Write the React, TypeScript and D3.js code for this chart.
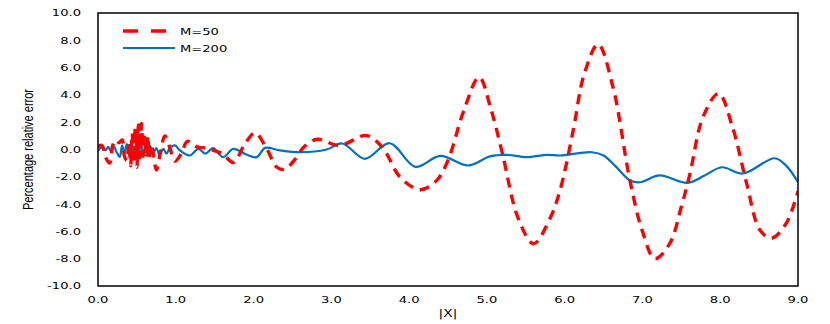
import React from 'react';
import * as d3 from 'd3';

// M=50 series (dashed red)
const m50X = [0, 0.05, 0.1, 0.15, 0.19, 0.23, 0.27, 0.31, 0.34, 0.37, 0.4, 0.42, 0.44, 0.46, 0.48, 0.5, 0.52, 0.54, 0.56, 0.58, 0.6, 0.62, 0.64, 0.66, 0.68, 0.71, 0.75, 0.8, 0.86, 0.92, 0.99, 1.07, 1.15, 1.27, 1.4, 1.5, 1.6, 1.74, 1.89, 2.02, 2.17, 2.3, 2.4, 2.55, 2.65, 2.82, 3.1, 3.45, 3.6, 3.71, 3.88, 4.14, 4.35, 4.5, 4.7, 4.9, 5.05, 5.2, 5.4, 5.6, 5.8, 5.94, 6.11, 6.25, 6.43, 6.62, 6.84, 7.0, 7.16, 7.35, 7.5, 7.61, 7.78, 7.98, 8.16, 8.34, 8.51, 8.66, 8.85, 9.0];
const m50Y = [0.2, 0.3, -0.6, -1.0, 0.3, 0.7, 0.5, 0.7, -0.5, -0.8, 0.5, -1.2, 1.2, -0.9, 1.6, -1.3, 1.8, -0.6, 1.9, -0.5, 0.9, -0.4, 1.0, -0.6, 0.4, -0.3, -1.5, -0.3, 1.0, 0.2, -0.85, -0.3, 0.6, 0.2, 0.1, -0.1, -0.3, -0.95, 0.42, 1.22, 0.05, -1.3, -1.45, -0.6, 0.2, 0.75, 0.3, 1.03, 0.5, -0.3, -2.0, -2.95, -2.3, -0.8, 2.8, 5.3, 3.0, -0.3, -5.0, -6.9, -5.2, -3.0, 1.4, 5.5, 7.7, 4.6, -2.3, -6.0, -8.0, -6.9, -4.2, -1.8, 2.4, 4.1, 1.6, -2.5, -5.9, -6.5, -5.4, -3.05];

// M=200 series (solid blue)
const m200X = [0, 0.05, 0.1, 0.13, 0.17, 0.2, 0.24, 0.28, 0.31, 0.34, 0.37, 0.4, 0.43, 0.46, 0.49, 0.52, 0.55, 0.58, 0.61, 0.64, 0.67, 0.71, 0.75, 0.79, 0.84, 0.88, 0.93, 0.99, 1.05, 1.18, 1.29, 1.38, 1.48, 1.61, 1.74, 1.9, 2.04, 2.15, 2.34, 2.6, 2.94, 3.14, 3.43, 3.75, 4.08, 4.4, 4.76, 5.04, 5.25, 5.51, 5.77, 5.94, 6.35, 6.5, 6.65, 6.84, 6.97, 7.22, 7.58, 7.8, 8.02, 8.29, 8.7, 8.85, 9.0];
const m200Y = [-0.1, 0.15, -0.05, 0.2, -0.15, 0.25, -0.2, -0.55, 0.3, -0.3, 0.4, -0.45, 0.45, -0.55, 0.5, -0.5, 0.45, -0.45, 0.4, -0.45, 0.25, -0.25, 0.1, -0.35, 0.05, -0.3, 0.15, 0.3, -0.05, -0.44, 0.05, -0.3, 0.1, -0.56, 0.05, -0.35, -0.56, 0.12, -0.07, -0.2, 0.0, 0.44, -0.68, 0.46, -1.27, -0.47, -1.17, -0.5, -0.39, -0.56, -0.39, -0.44, -0.2, -0.44, -1.2, -2.27, -2.4, -1.9, -2.44, -1.9, -1.3, -1.76, -0.64, -1.2, -2.4];

const xTicks = [0, 1, 2, 3, 4, 5, 6, 7, 8, 9];
const yTicks = [-10, -8, -6, -4, -2, 0, 2, 4, 6, 8, 10];

const W = 830, H = 324;
const margin = { left: 98, right: 32, top: 13, bottom: 38 };
const SX = 1.38; // the source picture is stretched sideways
const tickFont = "'DejaVu Sans', Verdana, sans-serif";

export default function App() {
    const x = d3.scaleLinear().domain([0, 9]).range([margin.left, W - margin.right]);
    const y = d3.scaleLinear().domain([-10, 10]).range([H - margin.bottom, margin.top]);
    const line = d3.line<[number, number]>()
        .x(d => x(d[0]))
        .y(d => y(d[1]))
        .curve(d3.curveCatmullRom.alpha(0.5));

    const red = line(m50X.map((v, i) => [v, m50Y[i]] as [number, number])) || '';
    const blue = line(m200X.map((v, i) => [v, m200Y[i]] as [number, number])) || '';

    return (
        <svg width={W} height={H} style={{ position: 'absolute', left: 0, top: 0, background: '#fff' }}>
            <defs>
                <clipPath id="plot">
                    <rect x={margin.left} y={margin.top} width={W - margin.left - margin.right} height={H - margin.top - margin.bottom} />
                </clipPath>
            </defs>
            <g clipPath="url(#plot)">
                <path d={blue} fill="none" stroke="#0070C0" strokeWidth={2.2} />
                <path d={red} fill="none" stroke="#FF0000" strokeWidth={3.4} strokeDasharray="10,7" />
            </g>
            <rect x={margin.left} y={margin.top} width={W - margin.left - margin.right}
                  height={H - margin.top - margin.bottom} fill="none" stroke="#000" strokeWidth={1.5} />
            {/* y ticks */}
            {yTicks.map(t => (
                <text key={'y' + t} transform={`translate(81,${y(t) + 3.4}) scale(${SX},1)`}
                      textAnchor="end" fontFamily={tickFont} fontSize={9.5} fill="#000">
                    {t.toFixed(1)}
                </text>
            ))}
            {/* x ticks */}
            {xTicks.map(t => (
                <text key={'x' + t} transform={`translate(${x(t)},303) scale(${SX},1)`}
                      textAnchor="middle" fontFamily={tickFont} fontSize={9.5} fill="#000">
                    {t.toFixed(1)}
                </text>
            ))}
            <text transform={`translate(${(margin.left + W - margin.right) / 2},317) scale(${SX},1)`}
                  textAnchor="middle" fontFamily={tickFont} fontSize={10} fill="#000">|X|</text>
            <text transform={`translate(33,${(margin.top + H - margin.bottom) / 2}) scale(${SX},1) rotate(-90)`}
                  textAnchor="middle" fontFamily="'Liberation Sans', Arial, sans-serif" fontSize={11} fill="#000">
                Percentage relative error
            </text>
            {/* legend */}
            <line x1={123} x2={166} y1={31} y2={31} stroke="#FF0000" strokeWidth={3.4} strokeDasharray="15,13" />
            <text transform={`translate(180,35) scale(${SX},1)`} fontFamily={tickFont} fontSize={9.5} fill="#000">M=50</text>
            <line x1={123} x2={175} y1={48} y2={48} stroke="#0070C0" strokeWidth={2.2} />
            <text transform={`translate(180,52) scale(${SX},1)`} fontFamily={tickFont} fontSize={9.5} fill="#000">M=200</text>
        </svg>
    );
}
